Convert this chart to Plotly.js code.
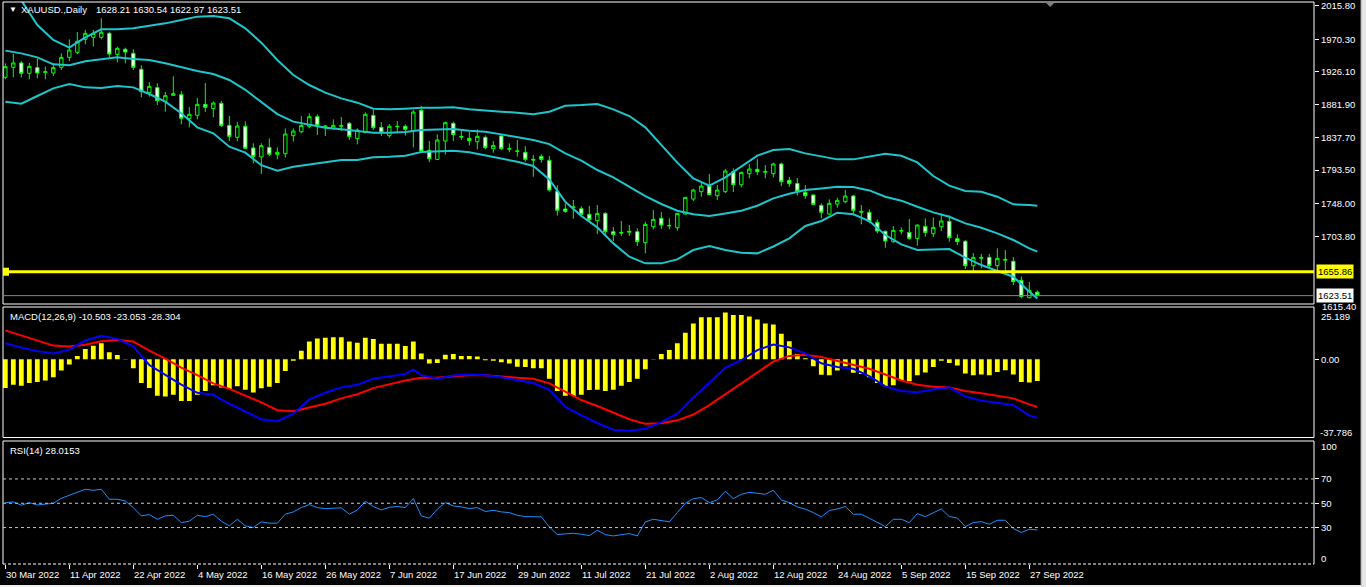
<!DOCTYPE html>
<html>
<head>
<meta charset="utf-8">
<script src="https://cdn.plot.ly/plotly-3.0.1.min.js"></script>
<style>
html, body { margin: 0; padding: 0; background: #000; overflow: hidden; }
#chart { width: 1366px; height: 587px; }
</style>
</head>
<body>
<div id="chart"></div>
<script>
/* global Plotly */
// XAUUSD daily, 30 Mar 2022 .. 28 Sep 2022, one entry per trading bar
const dateBars = [0, 8, 16, 24, 32, 40, 48, 56, 64, 72, 80, 88, 96, 104, 112, 120, 128]
const dateLabels = ['30 Mar 2022', '11 Apr 2022', '22 Apr 2022', '4 May 2022', '16 May 2022', '26 May 2022',
  '7 Jun 2022', '17 Jun 2022', '29 Jun 2022', '11 Jul 2022', '21 Jul 2022', '2 Aug 2022', '12 Aug 2022',
  '24 Aug 2022', '5 Sep 2022', '15 Sep 2022', '27 Sep 2022']

const open = [1918.9, 1932.4, 1938.3, 1924.3, 1932.0, 1925.2, 1924.7, 1932.4, 1945.9, 1952.7,
  1970.3, 1973.0, 1973.0, 1978.4, 1950.0, 1956.8, 1951.3, 1929.7, 1898.1, 1904.9,
  1886.4, 1894.5, 1895.4, 1863.4, 1867.5, 1882.3, 1876.5, 1883.7, 1853.9, 1837.7,
  1852.6, 1823.3, 1811.1, 1824.1, 1814.7, 1815.6, 1839.9, 1845.3, 1852.6, 1865.6,
  1851.2, 1849.8, 1852.6, 1856.6, 1835.9, 1844.4, 1867.4, 1851.2, 1839.9, 1852.1,
  1852.6, 1846.7, 1874.2, 1820.1, 1807.9, 1832.7, 1856.6, 1839.0, 1836.3, 1831.8,
  1837.7, 1822.3, 1839.5, 1822.3, 1818.7, 1817.4, 1807.9, 1811.9, 1806.5, 1764.6,
  1740.7, 1742.5, 1741.1, 1733.5, 1724.9, 1734.8, 1710.0, 1709.1, 1710.5, 1710.0,
  1695.1, 1716.8, 1728.1, 1718.6, 1715.4, 1733.9, 1754.2, 1764.2, 1771.8, 1758.7,
  1764.2, 1791.2, 1773.6, 1788.5, 1794.4, 1791.7, 1788.5, 1801.6, 1779.5, 1775.4,
  1763.2, 1759.6, 1745.6, 1733.9, 1747.4, 1750.6, 1758.3, 1737.5, 1736.2, 1722.6,
  1710.5, 1696.5, 1710.9, 1709.1, 1701.0, 1717.2, 1707.3, 1716.8, 1724.0, 1700.6,
  1697.0, 1664.0, 1675.3, 1675.3, 1664.0, 1672.6, 1669.9, 1644.2, 1620.7, 1628.21]
const high = [1937.8, 1950.4, 1941.0, 1938.3, 1944.1, 1933.7, 1937.8, 1951.3, 1970.3, 1980.2,
  1982.9, 1982.9, 1998.7, 1980.7, 1960.4, 1959.0, 1956.8, 1935.1, 1912.5, 1910.8,
  1899.0, 1920.2, 1900.4, 1878.3, 1890.9, 1911.2, 1886.4, 1886.8, 1866.5, 1858.4,
  1859.3, 1829.6, 1829.6, 1836.3, 1824.1, 1849.8, 1849.8, 1866.5, 1870.1, 1868.8,
  1854.4, 1862.0, 1865.2, 1858.4, 1849.8, 1871.5, 1874.6, 1858.4, 1855.7, 1859.8,
  1855.3, 1874.6, 1880.0, 1832.7, 1841.7, 1858.9, 1858.9, 1846.7, 1844.9, 1848.5,
  1840.4, 1832.7, 1840.8, 1829.6, 1834.1, 1825.9, 1813.8, 1814.7, 1812.4, 1772.7,
  1748.4, 1752.9, 1744.3, 1744.8, 1746.1, 1736.6, 1716.3, 1724.5, 1719.0, 1714.5,
  1723.6, 1739.3, 1736.6, 1728.1, 1735.7, 1757.0, 1768.2, 1776.8, 1788.0, 1773.2,
  1794.8, 1795.7, 1791.2, 1801.6, 1808.3, 1800.2, 1803.4, 1803.4, 1784.0, 1782.6,
  1773.2, 1760.5, 1748.4, 1753.8, 1756.0, 1766.4, 1759.6, 1746.1, 1740.2, 1726.7,
  1711.8, 1717.7, 1715.9, 1727.2, 1719.9, 1728.1, 1729.4, 1734.8, 1732.1, 1706.4,
  1698.8, 1681.2, 1679.8, 1679.8, 1687.5, 1685.2, 1675.7, 1649.6, 1641.9, 1630.54]
const low = [1916.2, 1918.9, 1918.9, 1916.2, 1917.5, 1916.2, 1920.7, 1928.8, 1940.5, 1950.4,
  1963.5, 1960.4, 1970.3, 1945.9, 1939.2, 1937.8, 1928.8, 1891.8, 1892.7, 1881.4,
  1872.4, 1893.6, 1855.3, 1851.2, 1862.0, 1872.0, 1864.8, 1851.7, 1832.7, 1832.3,
  1821.9, 1802.5, 1788.1, 1812.4, 1807.9, 1810.1, 1831.8, 1843.1, 1849.8, 1840.8,
  1839.5, 1847.6, 1846.2, 1834.1, 1828.2, 1843.1, 1847.6, 1839.5, 1837.2, 1844.4,
  1840.0, 1824.1, 1816.9, 1804.3, 1807.0, 1814.2, 1832.7, 1834.1, 1826.8, 1821.4,
  1821.4, 1816.9, 1820.5, 1817.4, 1811.5, 1804.7, 1784.4, 1803.4, 1764.2, 1731.7,
  1735.7, 1727.6, 1731.2, 1723.6, 1706.9, 1705.5, 1697.4, 1704.2, 1704.2, 1690.6,
  1680.7, 1713.2, 1713.6, 1713.2, 1711.4, 1733.0, 1751.5, 1757.4, 1759.6, 1752.9,
  1762.3, 1763.7, 1770.0, 1782.2, 1786.7, 1782.2, 1783.5, 1771.8, 1770.5, 1758.7,
  1754.7, 1746.1, 1728.1, 1732.6, 1742.5, 1748.4, 1732.1, 1720.0, 1721.3, 1707.8,
  1688.4, 1695.1, 1706.4, 1699.2, 1691.1, 1703.3, 1702.8, 1710.9, 1696.5, 1692.0,
  1659.5, 1656.8, 1660.4, 1660.4, 1655.9, 1655.9, 1637.9, 1619.8, 1619.8, 1622.97]
const close = [1933.3, 1938.3, 1924.3, 1933.7, 1924.7, 1926.5, 1932.0, 1945.9, 1955.8, 1967.6,
  1978.4, 1978.4, 1979.8, 1950.4, 1958.1, 1953.1, 1932.4, 1899.5, 1906.7, 1887.3,
  1894.1, 1896.8, 1863.4, 1868.8, 1882.3, 1878.3, 1884.1, 1853.5, 1839.0, 1853.0,
  1822.8, 1812.0, 1826.4, 1814.7, 1817.4, 1842.2, 1846.2, 1853.9, 1865.6, 1853.9,
  1853.0, 1853.9, 1853.5, 1839.0, 1847.6, 1868.8, 1850.7, 1844.0, 1852.6, 1852.6,
  1848.5, 1871.9, 1819.2, 1808.8, 1834.1, 1857.5, 1841.3, 1838.1, 1833.2, 1839.0,
  1823.7, 1826.8, 1822.3, 1821.9, 1819.2, 1807.9, 1807.0, 1807.9, 1766.4, 1738.9,
  1737.5, 1743.4, 1733.5, 1726.3, 1734.8, 1710.0, 1706.4, 1708.2, 1709.6, 1696.5,
  1719.9, 1726.7, 1719.0, 1718.1, 1734.8, 1756.5, 1766.4, 1771.8, 1760.1, 1766.4,
  1792.1, 1773.6, 1790.3, 1794.8, 1791.2, 1790.8, 1801.6, 1777.7, 1775.0, 1765.0,
  1758.7, 1747.0, 1736.2, 1748.4, 1752.4, 1758.3, 1738.9, 1736.6, 1724.0, 1710.9,
  1697.4, 1711.8, 1711.4, 1701.0, 1719.0, 1709.1, 1715.9, 1724.5, 1701.9, 1696.5,
  1664.0, 1675.3, 1674.4, 1664.0, 1673.9, 1671.7, 1642.4, 1622.1, 1630.6, 1623.51]

// Bollinger bands, read every second bar
const bandBars = [0, 2, 4, 6, 8, 10, 12, 14, 16, 18, 20, 22, 24, 26, 28, 30, 32, 34, 36, 38,
  40, 42, 44, 46, 48, 50, 52, 54, 56, 58, 60, 62, 64, 66, 68, 70, 72, 74, 76, 78,
  80, 82, 84, 86, 88, 90, 92, 94, 96, 98, 100, 102, 104, 106, 108, 110, 112, 114, 116, 118,
  120, 122, 124, 126, 128, 129]
const bandUpper = [2034, 2023, 1989.7, 1969.4, 1959.0, 1973.0, 1983.8, 1983.8, 1985.2, 1988.3,
  1991.9, 1996.4, 2001.0, 2001.9, 1998.7, 1985.2, 1965.8, 1942.3, 1922.0, 1908.5,
  1898.1, 1890.4, 1884.6, 1876.5, 1875.6, 1876.5, 1877.8, 1877.8, 1878.3, 1875.6,
  1873.7, 1872.4, 1871.0, 1868.8, 1872.4, 1880.5, 1881.4, 1882.8, 1875.6, 1866.5,
  1851.2, 1827.3, 1803.4, 1782.2, 1772.3, 1783.5, 1798.0, 1812.9, 1820.5, 1821.9,
  1816.0, 1811.5, 1807.9, 1807.9, 1811.5, 1815.6, 1812.8, 1803.8, 1785.3, 1772.3,
  1765.0, 1764.1, 1757.4, 1747.0, 1746.1, 1745.2]
const bandMiddle = [1955.0, 1951.3, 1945.9, 1936.5, 1935.1, 1940.5, 1943.2, 1945.9, 1943.7, 1942.3,
  1937.8, 1932.4, 1927.4, 1923.4, 1915.3, 1902.0, 1885.0, 1869.2, 1858.9, 1854.4,
  1850.7, 1848.5, 1846.2, 1844.0, 1844.0, 1844.9, 1847.6, 1848.0, 1848.9, 1846.7,
  1845.3, 1841.7, 1838.0, 1834.1, 1828.6, 1816.0, 1806.1, 1793.5, 1783.5, 1770.9,
  1758.3, 1747.5, 1738.4, 1733.5, 1731.2, 1734.8, 1738.4, 1745.2, 1755.1, 1761.4,
  1766.4, 1768.6, 1770.9, 1770.4, 1765.9, 1757.4, 1752.0, 1743.8, 1736.2, 1730.3,
  1721.3, 1715.4, 1707.8, 1698.8, 1687.5, 1683.0]
const bandLower = [1885.9, 1883.2, 1893.6, 1904.0, 1909.8, 1905.3, 1904.4, 1907.1, 1905.3, 1896.3,
  1885.9, 1870.2, 1851.2, 1843.1, 1825.0, 1817.0, 1800.0, 1792.6, 1798.0, 1800.7,
  1803.8, 1807.0, 1807.0, 1810.6, 1811.5, 1812.9, 1817.8, 1819.2, 1819.6, 1817.4,
  1813.3, 1808.8, 1804.7, 1798.9, 1780.8, 1750.6, 1731.2, 1715.9, 1694.2, 1676.2,
  1667.2, 1667.2, 1672.6, 1685.2, 1690.6, 1685.2, 1681.6, 1680.7, 1690.0, 1701.0,
  1717.7, 1724.5, 1735.7, 1733.5, 1724.5, 1705.5, 1692.9, 1685.2, 1686.1, 1686.6,
  1674.8, 1664.9, 1656.8, 1649.1, 1628.8, 1619.8]

// MACD(12,26,9)
const macdHist = [-13.95, -12.3, -12.8, -11.5, -11.0, -10.3, -8.7, -5.4, -2.5, 1.6,
  4.9, 6.5, 7.7, 3.3, 2.0, -0.2, -4.4, -11.5, -13.95, -17.6,
  -18.05, -17.2, -20.2, -20.2, -17.2, -15.3, -12.6, -13.6, -14.4, -13.1,
  -14.8, -16.1, -14.0, -13.3, -11.5, -5.7, -0.8, 4.1, 8.5, 10.0,
  10.3, 10.65, 10.65, 8.5, 7.9, 10.3, 9.7, 7.4, 7.4, 7.4,
  6.4, 8.5, 2.8, -2.1, -1.8, 2.1, 2.45, 1.6, 1.5, 1.3,
  -0.5, -0.8, -1.5, -2.1, -3.6, -3.8, -4.4, -4.4, -9.4, -15.3,
  -17.6, -17.7, -17.2, -14.9, -14.8, -15.3, -14.8, -12.8, -11.0, -9.4,
  -4.9, -0.2, 2.45, 4.4, 7.7, 12.8, 17.2, 20.2, 20.2, 20.2,
  22.5, 21.3, 21.3, 20.65, 19.2, 17.2, 16.7, 12.3, 8.7, 2.45,
  0.5, -3.45, -7.55, -7.7, -5.4, -3.45, -6.6, -7.1, -8.7, -11.5,
  -13.1, -12.6, -10.3, -10.7, -7.7, -6.4, -3.8, -0.8, -1.8, -3.0,
  -6.9, -7.7, -7.4, -7.7, -6.2, -5.3, -7.4, -11.0, -11.2, -10.503]
const macdBars = [0, 2, 4, 6, 8, 10, 12, 14, 16, 18, 20, 22, 24, 26, 28, 30, 32, 34, 36, 38,
  40, 42, 44, 46, 48, 50, 51, 52, 54, 56, 58, 60, 62, 64, 66, 68, 70, 72, 74, 76, 78,
  80, 82, 84, 86, 88, 90, 92, 94, 96, 98, 100, 102, 104, 106, 108, 110, 112, 114, 116, 118,
  120, 122, 124, 126, 128, 129]
const macdMain = [7.7, 5.6, 3.9, 2.8, 4.6, 9.0, 11.3, 9.8, 6.1, -2.8,
  -7.6, -12.3, -16.2, -17.2, -21.5, -25.1, -29.0, -29.9, -26.3, -19.4,
  -16.2, -13.6, -12.3, -9.4, -8.4, -7.1, -4.9, -7.7, -9.4, -7.9, -7.4,
  -7.7, -8.7, -10.2, -11.5, -14.8, -23.0, -27.1, -30.8, -34.0, -34.5,
  -33.6, -30.4, -26.3, -18.5, -11.5, -4.1, -0.5, 4.4, 7.1, 5.7,
  2.8, -2.0, -3.8, -4.6, -8.2, -13.1, -15.3, -15.9, -14.6, -13.6,
  -18.0, -20.0, -21.0, -22.2, -27.1, -28.304]
const signalBars = [0, 2, 4, 6, 8, 10, 12, 14, 16, 18, 20, 22, 24, 26, 28, 30, 32, 34, 36, 38,
  40, 42, 44, 46, 48, 50, 52, 54, 56, 58, 60, 62, 64, 66, 68, 70, 72, 74, 76, 78,
  80, 82, 84, 86, 88, 90, 92, 94, 96, 98, 100, 102, 104, 106, 108, 110, 112, 114, 116, 118,
  120, 122, 124, 126, 128, 129]
const macdSignal = [13.9, 11.5, 9.3, 6.55, 6.1, 7.0, 8.7, 9.3, 8.5, 4.1,
  0.3, -4.1, -7.7, -11.65, -14.3, -17.6, -20.8, -24.6, -25.1, -23.3,
  -21.5, -18.9, -16.9, -13.95, -12.0, -10.3, -9.0, -9.0, -8.2, -7.7,
  -7.7, -8.4, -9.0, -9.4, -11.65, -15.6, -19.7, -22.6, -25.8, -29.0,
  -31.2, -30.85, -29.5, -26.7, -22.15, -16.9, -11.65, -6.6, -1.15, 1.6,
  2.1, 1.1, -0.8, -2.5, -4.6, -7.4, -10.3, -12.3, -13.3, -13.6,
  -15.3, -16.4, -17.6, -18.9, -21.8, -23.053]

// RSI(14)
const rsi = [50.5, 51.1, 48.4, 50.5, 48.6, 49.5, 50.0, 54.1, 56.6, 58.8,
  61.5, 60.7, 61.5, 53.3, 53.3, 51.9, 46.4, 39.6, 40.7, 36.8,
  39.6, 40.1, 34.1, 35.2, 40.1, 39.0, 41.0, 35.2, 31.4, 36.8,
  31.4, 30.0, 34.7, 33.6, 33.6, 41.0, 42.9, 46.4, 48.9, 46.4,
  45.6, 45.9, 46.2, 41.0, 44.5, 51.6, 47.3, 44.5, 46.7, 47.3,
  46.4, 53.8, 39.6, 37.7, 45.1, 50.5, 47.8, 47.0, 45.6, 46.4,
  43.2, 44.2, 42.9, 42.3, 40.1, 39.0, 38.8, 38.8, 30.5, 24.2,
  24.8, 25.3, 24.5, 23.4, 27.8, 24.2, 23.1, 24.0, 25.1, 23.1,
  34.7, 36.8, 35.5, 34.7, 42.3, 50.0, 53.8, 54.7, 50.5, 52.7,
  59.9, 53.8, 57.4, 59.0, 58.2, 57.4, 60.7, 52.7, 50.5, 47.0,
  45.1, 42.3, 38.8, 44.0, 45.3, 47.3, 41.0, 41.0, 37.7, 34.1,
  30.8, 36.8, 36.8, 34.1, 41.5, 39.0, 42.3, 45.3, 39.0, 37.9,
  30.8, 34.1, 34.9, 32.7, 36.0, 36.0, 29.2, 25.9, 28.6, 28.0153]

const priceTicks = [2015.80, 1970.30, 1926.10, 1881.90, 1837.70, 1793.50, 1748.00, 1703.80]
const priceBottom = 1615.40
const hLine = 1655.86
const bidPrice = 1623.51

const bars = close.map((c, i) => i)

// page geometry (pixels) -> paper coordinates
const W = 1366, H = 587
const M = {l: 3, r: 52, t: 2, b: 23}
const plotW = W - M.l - M.r
const plotH = H - M.t - M.b
const py = y => 1 - (y - M.t) / plotH
const px = x => (x - M.l) / plotW

const FONT = 'Liberation Sans, Arial, sans-serif'
const FS = 9.5
const white = '#ffffff'
const bandColor = '#1ec6cc'

const line = (x, y, color, width, yaxis) => ({
  type: 'scatter', mode: 'lines', x, y, xaxis: 'x', yaxis,
  line: {color, width}, hoverinfo: 'skip'
})

const traces = [
  {
    type: 'candlestick', x: bars, open, high, low, close, xaxis: 'x', yaxis: 'y',
    increasing: {line: {color: '#00ff00', width: 1}, fillcolor: '#000000'},
    decreasing: {line: {color: '#00ff00', width: 1}, fillcolor: '#ffffff'},
    whiskerwidth: 0, hoverinfo: 'skip'
  },
  line(bandBars, bandUpper, bandColor, 2, 'y'),
  line(bandBars, bandMiddle, bandColor, 2, 'y'),
  line(bandBars, bandLower, bandColor, 2, 'y'),
  {type: 'bar', x: bars, y: macdHist, xaxis: 'x', yaxis: 'y2', width: 0.6,
    marker: {color: '#ffff00', line: {width: 0}}, hoverinfo: 'skip'},
  line(signalBars, macdSignal, '#ff0000', 2, 'y2'),
  line(macdBars, macdMain, '#0000ff', 2, 'y2'),
  line(bars, rsi, '#1e90ff', 1, 'y3')
]

const frame = (y0, y1) => ({type: 'rect', xref: 'paper', yref: 'paper', x0: 0, x1: 1,
  y0: py(y0), y1: py(y1), line: {color: white, width: 1}})
const level = v => ({type: 'line', xref: 'paper', yref: 'y3', x0: 0, x1: 1, y0: v, y1: v,
  line: {color: '#c8c8c8', width: 1, dash: '3px,3px'}})

const shapes = [
  frame(304, 2),
  frame(437.5, 307),
  {type: 'line', xref: 'paper', yref: 'paper', x0: 0, x1: 1, y0: py(441), y1: py(441), line: {color: white, width: 1}},
  {type: 'line', xref: 'paper', yref: 'paper', x0: 0, x1: 0, y0: py(441), y1: 0, line: {color: white, width: 1}},
  {type: 'line', xref: 'paper', yref: 'paper', x0: 1, x1: 1, y0: py(441), y1: 0, line: {color: white, width: 1}},
  {type: 'line', xref: 'paper', yref: 'paper', x0: 0, x1: 1, y0: 0, y1: 0, line: {color: white, width: 1, dash: '3px,2px'}},
  level(70), level(50), level(30),
  {type: 'line', xref: 'paper', yref: 'y', x0: 0, x1: 1, y0: bidPrice, y1: bidPrice, line: {color: '#778899', width: 1}},
  {type: 'line', xref: 'paper', yref: 'y', x0: 0, x1: 1, y0: hLine, y1: hLine, line: {color: '#ffff00', width: 3}},
  {type: 'rect', xref: 'paper', yref: 'y', xsizemode: 'pixel', xanchor: 0, x0: 0, x1: 6,
    ysizemode: 'pixel', yanchor: hLine, y0: -4, y1: 4, fillcolor: '#ffff00', line: {width: 0}},
  {type: 'path', xref: 'x', yref: 'paper', xsizemode: 'pixel', xanchor: 130.6, ysizemode: 'pixel', yanchor: 1,
    path: 'M -5,0 L 5,0 L 0,-5 Z', fillcolor: '#808080', line: {width: 0}},
  // window edges
  {type: 'rect', xref: 'paper', yref: 'paper', x0: px(1361), x1: px(1367), y0: py(588), y1: py(-1),
    fillcolor: '#e6e6e6', line: {color: '#a0a0a0', width: 1}},
  {type: 'rect', xref: 'paper', yref: 'paper', x0: px(-1), x1: px(1361), y0: py(588), y1: py(585),
    fillcolor: '#f0f0f0', line: {width: 0}}
]

const txt = (text, x, y, extra) => Object.assign({
  text, x, y, xref: 'paper', yref: 'paper', xanchor: 'left', yanchor: 'middle',
  showarrow: false, font: {family: FONT, size: FS, color: white}
}, extra || {})

const annotations = [
  txt('▼', px(7), py(10), {font: {family: FONT, size: 8, color: white}}),
  txt('XAUUSD.,Daily', px(19), py(10)),
  txt('1628.21 1630.54 1622.97 1623.51', px(94), py(10)),
  txt('MACD(12,26,9) -10.503 -23.053 -28.304', px(8), py(316.5)),
  txt('RSI(14) 28.0153', px(8), py(450)),
  txt(priceBottom.toFixed(2), px(1320), py(306)),
  txt('25.189', px(1319), py(316)),
  txt('-37.786', px(1318), py(432)),
  txt('100', px(1319), py(447)),
  txt('0', px(1319), py(558)),
  txt(hLine.toFixed(2), px(1316), hLine, {yref: 'y', bgcolor: '#ffff00', borderpad: 1,
    font: {family: FONT, size: FS, color: '#000000'}}),
  txt(bidPrice.toFixed(2), px(1316), bidPrice, {yref: 'y', bgcolor: '#ffffff', borderpad: 1,
    font: {family: FONT, size: FS, color: '#000000'}})
].concat(dateBars.map((b, k) => txt(dateLabels[k], b, py(574.5), {xref: 'x', xshift: -1})))

const axisBase = {showgrid: false, zeroline: false, fixedrange: true, showline: false}
const tickStyle = {ticks: 'outside', ticklen: 4, tickcolor: white, tickfont: {family: FONT, size: FS, color: white}}

const layout = {
  width: W, height: H,
  margin: M,
  paper_bgcolor: '#000000', plot_bgcolor: '#000000',
  showlegend: false,
  boxgap: 0.4,
  xaxis: Object.assign({}, axisBase, {
    domain: [0, 1], range: [-0.29, -0.29 + plotW / 8], anchor: 'y3',
    tickmode: 'array', tickvals: dateBars, showticklabels: false,
    ticks: 'outside', ticklen: 4, tickcolor: white, rangeslider: {visible: false}
  }),
  yaxis: Object.assign({}, axisBase, tickStyle, {
    domain: [py(304), 1], range: [1612.2, 2020.8], side: 'right', anchor: 'x',
    tickmode: 'array', tickvals: priceTicks, ticktext: priceTicks.map(v => v.toFixed(2))
  }),
  yaxis2: Object.assign({}, axisBase, tickStyle, {
    domain: [py(437.5), py(307)], range: [-37.786, 25.189], side: 'right', anchor: 'x',
    tickmode: 'array', tickvals: [0], ticktext: ['0.00']
  }),
  yaxis3: Object.assign({}, axisBase, tickStyle, {
    domain: [0, py(442.5)], range: [0, 100], side: 'right', anchor: 'x',
    tickmode: 'array', tickvals: [70, 50, 30], ticktext: ['70', '50', '30']
  }),
  shapes,
  annotations
}

Plotly.newPlot('chart', traces, layout, {staticPlot: true, displayModeBar: false})
</script>
</body>
</html>
